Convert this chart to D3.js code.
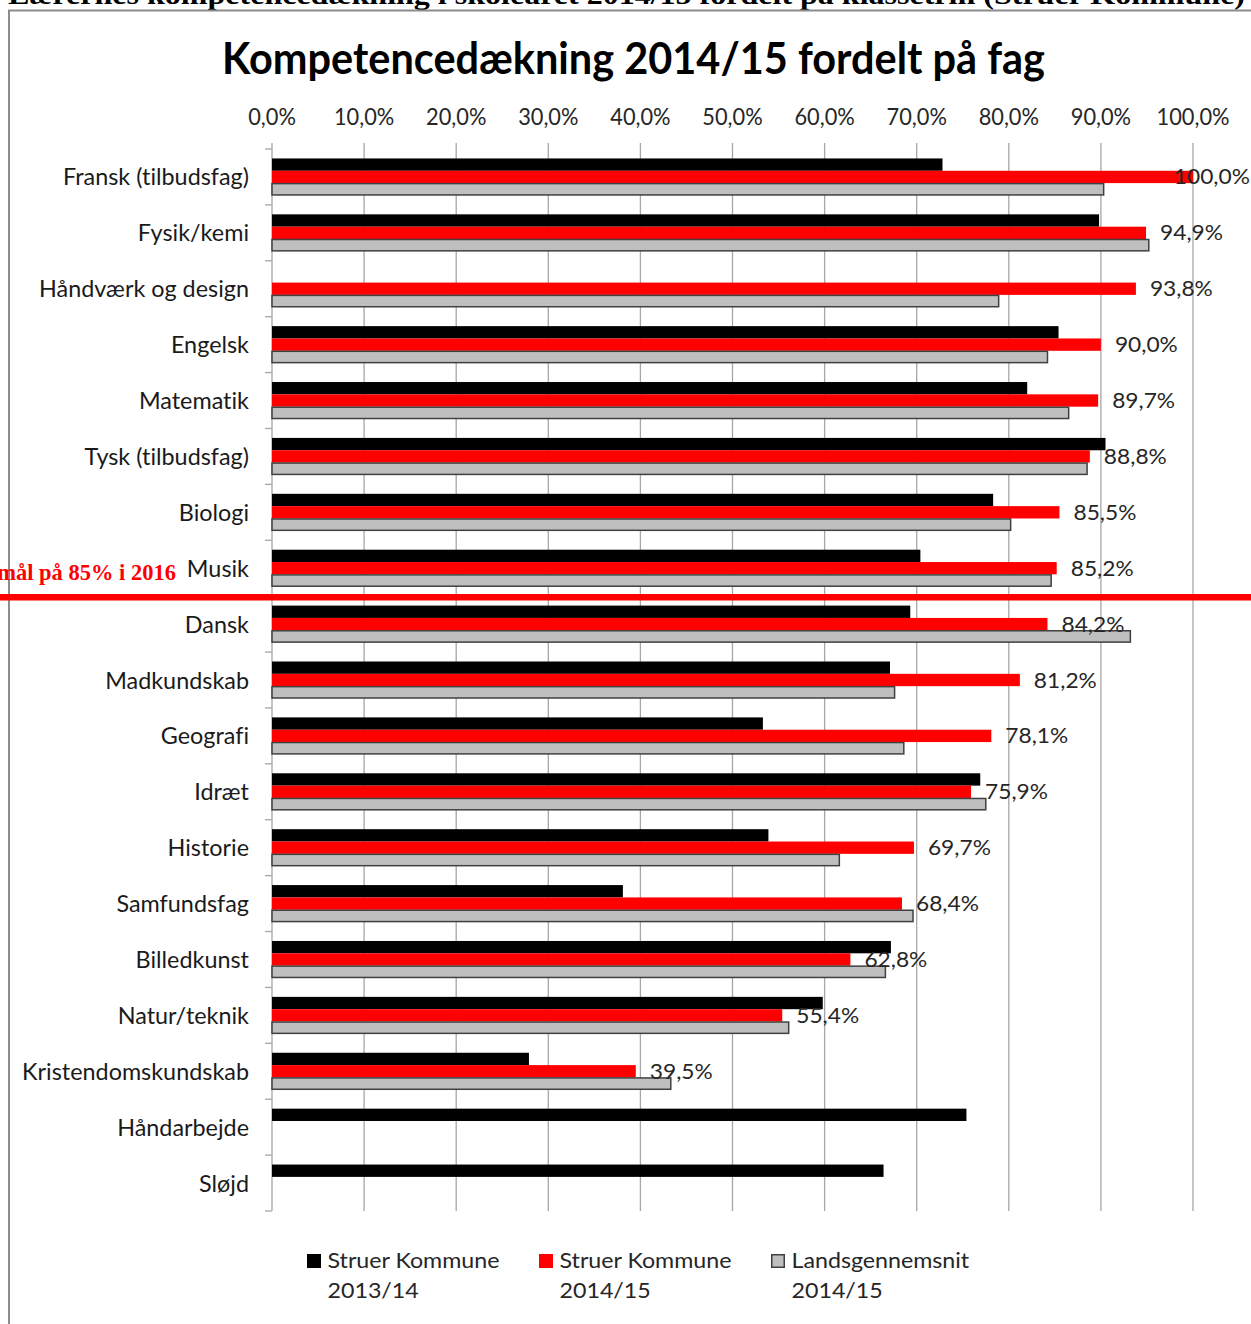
<!DOCTYPE html>
<html>
<head>
<meta charset="utf-8">
<script src="https://cdn.jsdelivr.net/npm/d3@7"></script>
<style>
  html, body { margin: 0; padding: 0; background: #fff; }
  svg { display: block; }
  text { font-variant-ligatures: none; font-feature-settings: "liga" 0, "clig" 0; }
</style>
</head>
<body>
<svg id="chart" width="1251" height="1324"></svg>
<script>
// ---------- DATA ----------
const categories = [
  "Fransk (tilbudsfag)", "Fysik/kemi", "Håndværk og design", "Engelsk", "Matematik",
  "Tysk (tilbudsfag)", "Biologi", "Musik", "Dansk", "Madkundskab", "Geografi", "Idræt",
  "Historie", "Samfundsfag", "Billedkunst", "Natur/teknik", "Kristendomskundskab",
  "Håndarbejde", "Sløjd"
];
const struer1314 = [72.8, 89.8, null, 85.4, 82.0, 90.5, 78.3, 70.4, 69.3, 67.1, 53.3, 76.9,
  53.9, 38.1, 67.2, 59.8, 27.9, 75.4, 66.4];
const struer1415 = [100.0, 94.9, 93.8, 90.0, 89.7, 88.8, 85.5, 85.2, 84.2, 81.2, 78.1, 75.9,
  69.7, 68.4, 62.8, 55.4, 39.5, null, null];
const lands1415 = [90.3, 95.2, 78.9, 84.2, 86.5, 88.5, 80.2, 84.6, 93.2, 67.6, 68.6, 77.5,
  61.6, 69.6, 66.6, 56.1, 43.3, null, null];
const seriesNames = [["Struer Kommune", "2013/14"], ["Struer Kommune", "2014/15"], ["Landsgennemsnit", "2014/15"]];
const tickValues = [0, 10, 20, 30, 40, 50, 60, 70, 80, 90, 100];
const targetCategory = "Dansk";   // goal line drawn above this category
const targetText = "Kompetencemål på 85% i 2016";
const chartTitle = "Kompetencedækning 2014/15 fordelt på fag";
const pageHeading = "Lærernes kompetencedækning i skoleåret 2014/15 fordelt på klassetrin (Struer Kommune)";

// ---------- SETUP ----------
const svg = d3.select("#chart");
const W = 1251, H = 1324;
const FONT = "Lato, 'Open Sans', sans-serif";
const SERIF = "'Liberation Serif', 'DejaVu Serif', serif";
const colors = ["#000000", "#ff0000", "#bfbfbf"];
const strokes = ["#000000", "#ff0000", "#404040"];

const margin = { left: 272, right: 1193, top: 149, bottom: 1211 };
const x = d3.scaleLinear().domain([0, 100]).range([margin.left, margin.right]);
const step = (margin.bottom - margin.top) / categories.length;
const pad = 1 - 37 / step;
const y = d3.scaleBand().domain(categories).range([margin.top, margin.bottom])
  .paddingInner(pad).paddingOuter(pad / 2);
const ys = d3.scaleBand().domain([0, 1, 2]).range([0, y.bandwidth()]);

// measuring helper for horizontal fitting
const meas = svg.append("text").attr("x", -1000).attr("y", -1000);
function measure(str, size, weight, family) {
  meas.style("font-family", family).style("font-size", size + "px").style("font-weight", weight).text(str);
  return meas.node().getComputedTextLength();
}
function styleSpec(size, weight, refStr, refW, family = FONT) {
  const w = measure(refStr, size, weight, family);
  return { size, weight, family, sx: refW / w };
}
function addText(g, str, px, py, spec, anchor, fill) {
  return g.append("text")
    .attr("transform", `translate(${px},${py}) scale(${spec.sx},1)`)
    .attr("text-anchor", anchor)
    .style("font-family", spec.family)
    .style("font-size", spec.size + "px")
    .style("font-weight", spec.weight)
    .attr("fill", fill)
    .text(str);
}

const sTitle = styleSpec(44, 700, chartTitle, 823);
const sTick = styleSpec(24, 400, "100,0%", 73);
const sCat = styleSpec(23.5, 400, "Fransk (tilbudsfag)", 186);
const sLbl = styleSpec(21, 400, "94,9%", 63);
const sLeg = styleSpec(20.5, 400, "Struer Kommune", 172);
meas.remove();

const fmt = v => v.toFixed(1).replace(".", ",") + "%";

// ---------- PAGE HEADING (clipped at top) ----------
svg.append("text")
  .attr("x", 8).attr("y", 4)
  .attr("textLength", 1237).attr("lengthAdjust", "spacingAndGlyphs")
  .style("font-family", SERIF).style("font-size", "28px").style("font-weight", 700)
  .attr("fill", "#000").text(pageHeading);

// frame
svg.append("line").attr("x1", 8).attr("x2", W).attr("y1", 10.5).attr("y2", 10.5)
  .attr("stroke", "#8c8c8c").attr("stroke-width", 2);
svg.append("line").attr("x1", 9).attr("x2", 9).attr("y1", 10).attr("y2", H)
  .attr("stroke", "#8c8c8c").attr("stroke-width", 2);

// ---------- TITLE ----------
addText(svg, chartTitle, 633.5, 74, sTitle, "middle", "#000");

// ---------- GRID + AXIS ----------
const grid = svg.append("g");
grid.selectAll("line.grid").data(tickValues).join("line")
  .attr("class", "grid")
  .attr("x1", d => x(d)).attr("x2", d => x(d))
  .attr("y1", margin.top - 6).attr("y2", margin.bottom)
  .attr("stroke", "#a6a6a6").attr("stroke-width", 1.3);

const tickG = svg.append("g");
tickValues.forEach(v => addText(tickG, fmt(v), x(v), 125, sTick, "middle", "#262626"));

// category boundary ticks
const bounds = d3.range(categories.length + 1).map(i => margin.top + i * step);
svg.append("g").selectAll("line").data(bounds).join("line")
  .attr("x1", x(0) - 7).attr("x2", x(0))
  .attr("y1", d => d).attr("y2", d => d)
  .attr("stroke", "#a6a6a6").attr("stroke-width", 1.3);

// category labels
const catG = svg.append("g");
categories.forEach(c => addText(catG, c, 249, y(c) + y.bandwidth() / 2 + 8.5, sCat, "end", "#1a1a1a"));

// ---------- BARS ----------
const series = [struer1314, struer1415, lands1415];
const barsG = svg.append("g");
series.forEach((vals, si) => {
  const data = categories.map((c, i) => ({ c, v: vals[i] })).filter(d => d.v != null);
  barsG.append("g").selectAll("rect").data(data).join("rect")
    .attr("x", x(0))
    .attr("y", d => y(d.c) + ys(si) + (si === 2 ? 0.5 : 0))
    .attr("width", d => x(d.v) - x(0))
    .attr("height", ys.bandwidth() - (si === 2 ? 1 : 0))
    .attr("fill", colors[si])
    .attr("stroke", si === 2 ? strokes[si] : "none")
    .attr("stroke-width", si === 2 ? 1.5 : 0);
});

// data labels for 2014/15 Struer
function measure2(str) {
  const t = svg.append("text").style("font-family", sLbl.family).style("font-size", sLbl.size + "px").text(str);
  const w = t.node().getComputedTextLength() * sLbl.sx;
  t.remove();
  return w;
}
const lblG = svg.append("g");
categories.forEach((c, i) => {
  const v = struer1415[i];
  if (v == null) return;
  const str = fmt(v);
  const w = measure2(str);
  let px = x(v) + 14;
  if (px + w > W - 1) px = W - 1 - w;
  addText(lblG, str, px, y(c) + ys(1) + ys.bandwidth() / 2 + 7.5, sLbl, "start", "#262626");
});

// ---------- TARGET LINE ----------
const lineY = y(targetCategory) - (y.step() * pad) / 2;
svg.append("line").attr("x1", 0).attr("x2", W).attr("y1", lineY + 1).attr("y2", lineY + 1)
  .attr("stroke", "#ff0000").attr("stroke-width", 6.5);
svg.append("text")
  .attr("x", 176).attr("y", 580).attr("text-anchor", "end")
  .style("font-family", SERIF).style("font-size", "22.5px").style("font-weight", 700)
  .attr("fill", "#ff0000").text(targetText);

// ---------- LEGEND ----------
const legX = [307, 539, 771];
const legG = svg.append("g");
seriesNames.forEach((lines, i) => {
  legG.append("rect")
    .attr("x", legX[i] + (i === 2 ? 0.75 : 0)).attr("y", 1254 + (i === 2 ? 0.75 : 0))
    .attr("width", 14 - (i === 2 ? 1.5 : 0)).attr("height", 14 - (i === 2 ? 1.5 : 0))
    .attr("fill", colors[i])
    .attr("stroke", i === 2 ? strokes[i] : "none").attr("stroke-width", 1.5);
  lines.forEach((ln, j) => addText(legG, ln, legX[i] + 20.5, 1268 + j * 30, sLeg, "start", "#262626"));
});
</script>
</body>
</html>
